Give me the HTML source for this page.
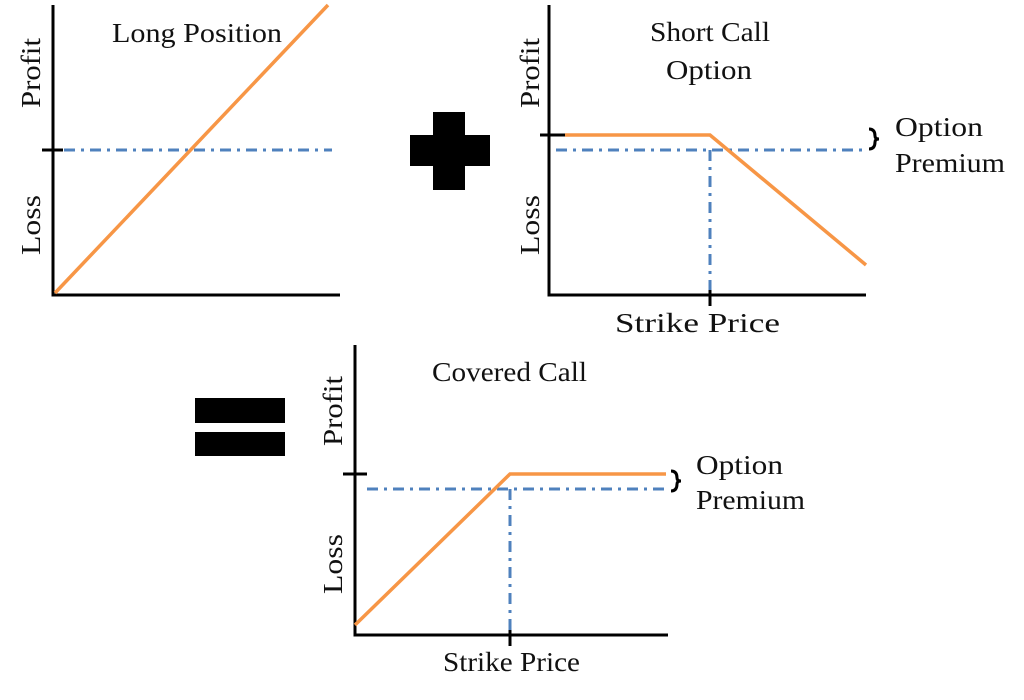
<!DOCTYPE html>
<html><head><meta charset="utf-8"><style>
html,body{margin:0;padding:0;background:#fff;width:1024px;height:700px;overflow:hidden}
text{font-family:"Liberation Serif",serif;font-size:27px;fill:#111}
</style></head><body>
<svg width="1024" height="700" viewBox="0 0 1024 700" xmlns="http://www.w3.org/2000/svg">
<g stroke="#000" stroke-width="3" fill="none">
<path d="M53,5 V295 H340"/><path d="M42,150 H63"/>
<path d="M549,5 V295 H866"/><path d="M540,135 H565"/><path d="M710,284 V306"/>
<path d="M355,345 V635 H668"/><path d="M343,474 H367"/><path d="M510,624 V646"/>
</g>
<g stroke="#4f81bd" stroke-width="3" fill="none" stroke-dasharray="11,6,3,6">
<path d="M64,150 H332"/>
<path d="M556,150 H868"/><path d="M710,150 V290"/>
<path d="M367,489 H668"/><path d="M510,489 V630"/>
</g>
<g stroke="#f79646" stroke-width="3.5" fill="none">
<path d="M55,293 L328,5"/>
<path d="M565,135 H710 L866,265"/>
<path d="M355,625 L510,474 H666"/>
</g>
<g stroke="#000" stroke-width="3" fill="none">
<path d="M869,129 q6,0 6,7 q0,3 4,3 q-4,0 -4,3 q0,7 -6,7"/>
<path d="M671,471 q6,0 6,7 q0,3 4,3 q-4,0 -4,3 q0,7 -6,7"/>
</g>
<rect x="433" y="112" width="32" height="78" fill="#000"/>
<rect x="410" y="135" width="80" height="31" fill="#000"/>
<rect x="195" y="398" width="90" height="25" fill="#000"/>
<rect x="195" y="432" width="90" height="24" fill="#000"/>
<text x="112" y="42" textLength="170" lengthAdjust="spacingAndGlyphs">Long Position</text>
<text x="650" y="41" textLength="120" lengthAdjust="spacingAndGlyphs">Short Call</text>
<text x="666" y="79" textLength="86" lengthAdjust="spacingAndGlyphs">Option</text>
<text x="895" y="136" textLength="88" lengthAdjust="spacingAndGlyphs">Option</text>
<text x="895" y="172" textLength="110" lengthAdjust="spacingAndGlyphs">Premium</text>
<text x="615" y="332" textLength="165" lengthAdjust="spacingAndGlyphs">Strike Price</text>
<text x="432" y="381" textLength="155" lengthAdjust="spacingAndGlyphs">Covered Call</text>
<text x="696" y="474" textLength="87" lengthAdjust="spacingAndGlyphs">Option</text>
<text x="696" y="509" textLength="109" lengthAdjust="spacingAndGlyphs">Premium</text>
<text x="443" y="671" textLength="137" lengthAdjust="spacingAndGlyphs">Strike Price</text>
<text transform="translate(40,108) rotate(-90)" textLength="70" lengthAdjust="spacingAndGlyphs">Profit</text>
<text transform="translate(40,255) rotate(-90)" textLength="60" lengthAdjust="spacingAndGlyphs">Loss</text>
<text transform="translate(539,108) rotate(-90)" textLength="70" lengthAdjust="spacingAndGlyphs">Profit</text>
<text transform="translate(539,255) rotate(-90)" textLength="60" lengthAdjust="spacingAndGlyphs">Loss</text>
<text transform="translate(342,446) rotate(-90)" textLength="70" lengthAdjust="spacingAndGlyphs">Profit</text>
<text transform="translate(342,594) rotate(-90)" textLength="60" lengthAdjust="spacingAndGlyphs">Loss</text>
</svg>
</body></html>
